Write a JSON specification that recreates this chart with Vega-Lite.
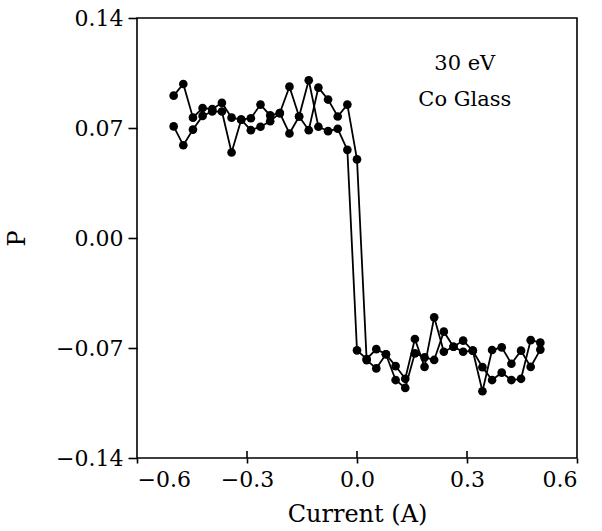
{
  "$schema": "https://vega.github.io/schema/vega-lite/v6.json",
  "width": 440,
  "height": 440,
  "autosize": {"type": "none"},
  "padding": {"left": 137, "top": 18, "right": 25, "bottom": 73},
  "background": "white",
  "config": {
    "view": {"stroke": "black", "strokeWidth": 1.6},
    "font": "DejaVu Serif",
    "axis": {
      "domainColor": "black", "domainWidth": 1.5, "tickColor": "black", "tickWidth": 1.6,
      "labelColor": "black", "titleColor": "black", "labelFont": "DejaVu Serif", "titleFont": "DejaVu Serif",
      "labelFontSize": 22, "titleFontSize": 24, "titleFontWeight": "normal", "grid": false
    }
  },
  "layer": [
    {
      "data": {
        "values": [
          {"branch": "A", "current": -0.5, "p": 0.071},
          {"branch": "A", "current": -0.4737, "p": 0.059},
          {"branch": "A", "current": -0.4474, "p": 0.069},
          {"branch": "A", "current": -0.4211, "p": 0.0777},
          {"branch": "A", "current": -0.3947, "p": 0.0805},
          {"branch": "A", "current": -0.3684, "p": 0.0805},
          {"branch": "A", "current": -0.3421, "p": 0.0544},
          {"branch": "A", "current": -0.3158, "p": 0.0753},
          {"branch": "A", "current": -0.2895, "p": 0.0686},
          {"branch": "A", "current": -0.2632, "p": 0.0708},
          {"branch": "A", "current": -0.2368, "p": 0.0743},
          {"branch": "A", "current": -0.2105, "p": 0.0795},
          {"branch": "A", "current": -0.1842, "p": 0.0963},
          {"branch": "A", "current": -0.1579, "p": 0.0773},
          {"branch": "A", "current": -0.1316, "p": 0.1004},
          {"branch": "A", "current": -0.1053, "p": 0.0708},
          {"branch": "A", "current": -0.0789, "p": 0.068},
          {"branch": "A", "current": -0.0526, "p": 0.0695},
          {"branch": "A", "current": -0.0263, "p": 0.0561},
          {"branch": "A", "current": 0.0, "p": -0.0715},
          {"branch": "A", "current": 0.0263, "p": -0.077},
          {"branch": "A", "current": 0.0526, "p": -0.0707},
          {"branch": "A", "current": 0.0789, "p": -0.074},
          {"branch": "A", "current": 0.1053, "p": -0.0815},
          {"branch": "A", "current": 0.1316, "p": -0.0896},
          {"branch": "A", "current": 0.1579, "p": -0.0643},
          {"branch": "A", "current": 0.1842, "p": -0.082},
          {"branch": "A", "current": 0.2105, "p": -0.0505},
          {"branch": "A", "current": 0.2368, "p": -0.0724},
          {"branch": "A", "current": 0.2632, "p": -0.0692},
          {"branch": "A", "current": 0.2895, "p": -0.0653},
          {"branch": "A", "current": 0.3158, "p": -0.0717},
          {"branch": "A", "current": 0.3421, "p": -0.0975},
          {"branch": "A", "current": 0.3684, "p": -0.0713},
          {"branch": "A", "current": 0.3947, "p": -0.0696},
          {"branch": "A", "current": 0.4211, "p": -0.08},
          {"branch": "A", "current": 0.4474, "p": -0.0717},
          {"branch": "A", "current": 0.4737, "p": -0.082},
          {"branch": "A", "current": 0.5, "p": -0.071},
          {"branch": "B", "current": -0.5, "p": 0.0906},
          {"branch": "B", "current": -0.4737, "p": 0.098},
          {"branch": "B", "current": -0.4474, "p": 0.0766},
          {"branch": "B", "current": -0.4211, "p": 0.0827},
          {"branch": "B", "current": -0.3947, "p": 0.082},
          {"branch": "B", "current": -0.3684, "p": 0.086},
          {"branch": "B", "current": -0.3421, "p": 0.0766},
          {"branch": "B", "current": -0.3158, "p": 0.0753},
          {"branch": "B", "current": -0.2895, "p": 0.0762},
          {"branch": "B", "current": -0.2632, "p": 0.0849},
          {"branch": "B", "current": -0.2368, "p": 0.078},
          {"branch": "B", "current": -0.2105, "p": 0.0795},
          {"branch": "B", "current": -0.1842, "p": 0.0665},
          {"branch": "B", "current": -0.1579, "p": 0.0773},
          {"branch": "B", "current": -0.1316, "p": 0.0686},
          {"branch": "B", "current": -0.1053, "p": 0.0957},
          {"branch": "B", "current": -0.0789, "p": 0.0881},
          {"branch": "B", "current": -0.0526, "p": 0.0773},
          {"branch": "B", "current": -0.0263, "p": 0.0849},
          {"branch": "B", "current": 0.0, "p": 0.05},
          {"branch": "B", "current": 0.0263, "p": -0.0777},
          {"branch": "B", "current": 0.0526, "p": -0.083},
          {"branch": "B", "current": 0.0789, "p": -0.074},
          {"branch": "B", "current": 0.1053, "p": -0.0904},
          {"branch": "B", "current": 0.1316, "p": -0.0954},
          {"branch": "B", "current": 0.1579, "p": -0.0734},
          {"branch": "B", "current": 0.1842, "p": -0.076},
          {"branch": "B", "current": 0.2105, "p": -0.0776},
          {"branch": "B", "current": 0.2368, "p": -0.0596},
          {"branch": "B", "current": 0.2632, "p": -0.0692},
          {"branch": "B", "current": 0.2895, "p": -0.0724},
          {"branch": "B", "current": 0.3158, "p": -0.0717},
          {"branch": "B", "current": 0.3421, "p": -0.0822},
          {"branch": "B", "current": 0.3684, "p": -0.0904},
          {"branch": "B", "current": 0.3947, "p": -0.0857},
          {"branch": "B", "current": 0.4211, "p": -0.0904},
          {"branch": "B", "current": 0.4474, "p": -0.0896},
          {"branch": "B", "current": 0.4737, "p": -0.065},
          {"branch": "B", "current": 0.5, "p": -0.0666}
        ]
      },
      "encoding": {
        "x": {
          "field": "current", "type": "quantitative", "title": "Current (A)",
          "scale": {"domain": [-0.6, 0.6], "nice": false, "zero": false},
          "axis": {"values": [-0.6, -0.3, 0, 0.3, 0.6], "format": ".1f", "tickSize": 5, "labelPadding": 6, "titlePadding": 12, "domain": false}
        },
        "y": {
          "field": "p", "type": "quantitative", "title": "P",
          "scale": {"domain": [-0.14, 0.14], "nice": false, "zero": false},
          "axis": {"values": [-0.14, -0.07, 0, 0.07, 0.14], "format": ".2f", "tickSize": 9, "labelPadding": 5, "titleX": -108, "domain": false}
        }
      },
      "layer": [
        {
          "mark": {"type": "line", "color": "black", "strokeWidth": 1.8},
          "encoding": {"detail": {"field": "branch"}, "order": {"field": "current"}}
        },
        {
          "mark": {"type": "point", "filled": true, "color": "black", "opacity": 1, "size": 75, "shape": "circle"}
        }
      ]
    },
    {
      "data": {"values": [{"tick": -0.3}, {"tick": 0.0}, {"tick": 0.3}]},
      "mark": {"type": "rule", "color": "black", "strokeWidth": 1.6},
      "encoding": {
        "x": {"field": "tick", "type": "quantitative"},
        "y": {"datum": -0.14},
        "y2": {"datum": -0.1355}
      }
    },
    {
      "data": {"values": [{"label": "30 eV", "px": 0.294, "py": 0.111}, {"label": "Co Glass", "px": 0.294, "py": 0.0878}]},
      "mark": {"type": "text", "fontSize": 21, "color": "black", "font": "DejaVu Serif"},
      "encoding": {
        "x": {"field": "px", "type": "quantitative"},
        "y": {"field": "py", "type": "quantitative"},
        "text": {"field": "label"}
      }
    }
  ]
}
